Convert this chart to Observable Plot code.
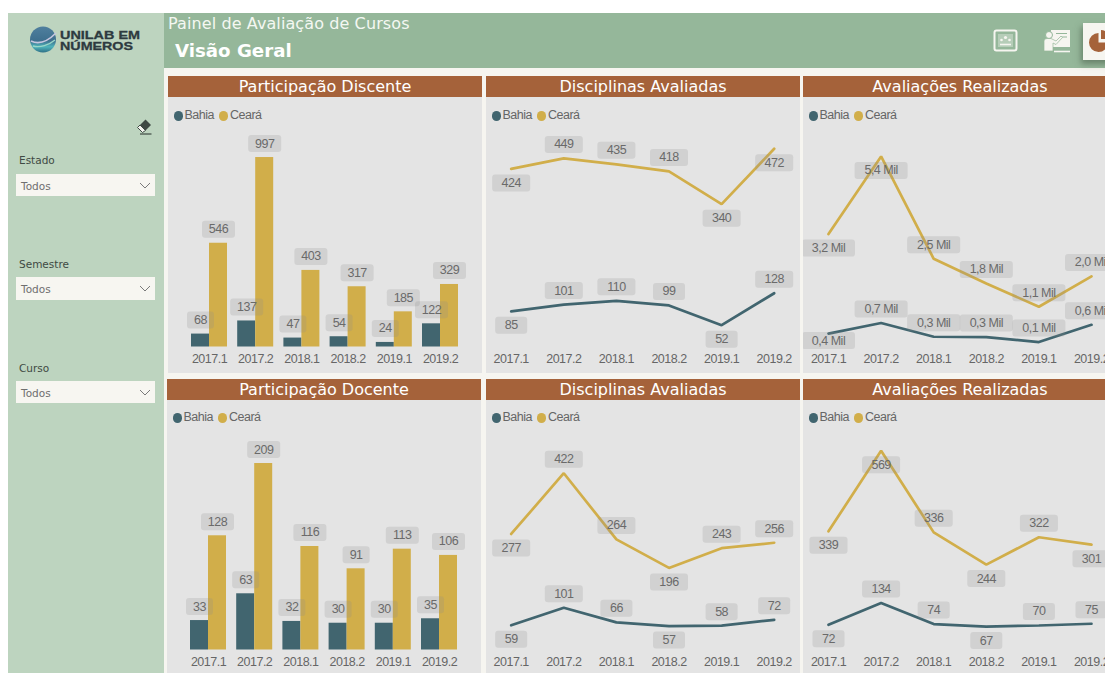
<!DOCTYPE html>
<html lang="pt">
<head>
<meta charset="utf-8">
<title>Painel de Avaliação de Cursos</title>
<script src="https://cdn.jsdelivr.net/npm/d3@7"></script>
<script src="https://cdn.jsdelivr.net/npm/@observablehq/plot@0.6"></script>
<style>
html,body{margin:0;padding:0;width:1105px;height:673px;overflow:hidden;background:#fff;font-family:"DejaVu Sans",sans-serif}
.abs{position:absolute}
#side{left:8px;top:13px;width:156px;height:660px;background:#bdd4bf}
#head{left:164px;top:13px;width:941px;height:55px;background:#95b79a}
#canvas{left:164px;top:68px;width:941px;height:605px;background:#f6f5f0}
.flabel{font-size:10.5px;color:#3f4a44;left:19px;line-height:12px}
.fbox{left:16px;width:139px;height:22.5px;background:#f7f6f1;font-size:10.5px;color:#6f6f6f;line-height:25px;text-indent:5px}
.title{color:#fff;background:#a5623a;height:21px;line-height:21px;text-align:center;font-size:16px;width:314px}
.body{background:#e4e4e4;width:314px;height:276px;overflow:hidden}
.legend{font:12.5px "Liberation Sans",sans-serif;letter-spacing:-.5px;color:#666;height:14px;line-height:14px;white-space:nowrap}
.legend i{position:absolute;top:3px;width:9.5px;height:9.5px;border-radius:50%}
.legend span{position:absolute;top:0}
</style>
</head>
<body>
<div id="side" class="abs"></div>
<div id="head" class="abs"></div>
<div id="canvas" class="abs"></div>
<div class="abs" style="left:168px;top:14px;font-size:16px;color:#f4f7f2;line-height:20px;letter-spacing:.1px">Painel de Avaliação de Cursos</div>
<div class="abs" style="left:175px;top:39px;font-size:18.2px;font-weight:bold;color:#fff;line-height:24px">Visão Geral</div>

<svg class="abs" style="left:20px;top:20px" width="130" height="40" viewBox="0 0 130 40">
  <defs><linearGradient id="g" x1="0" y1="0" x2="0" y2="1"><stop offset="0" stop-color="#4f7f9e"/><stop offset=".55" stop-color="#3e6f8e"/><stop offset=".78" stop-color="#4fb4bb"/><stop offset="1" stop-color="#2f6f86"/></linearGradient></defs>
  <circle cx="23" cy="19.5" r="13" fill="url(#g)"/>
  <path d="M11 21 C19 25 28 21 36 13" stroke="#c7c6df" stroke-width="1.6" fill="none"/>
  <path d="M13 26 C20 28 29 25 35 20" stroke="#9ad7c8" stroke-width="1.4" fill="none"/>
  <text x="40" y="19" font-family="Liberation Sans" font-weight="bold" font-size="11.5" fill="#2e3a40" stroke="#2e3a40" stroke-width=".3" textLength="80" lengthAdjust="spacingAndGlyphs">UNILAB EM</text>
  <text x="40" y="30" font-family="Liberation Sans" font-weight="bold" font-size="11.5" fill="#2e3a40" stroke="#2e3a40" stroke-width=".3" textLength="73" lengthAdjust="spacingAndGlyphs">NÚMEROS</text>
</svg>

<svg class="abs" style="left:136px;top:118px" width="18" height="18" viewBox="0 0 18 18">
  <path d="M9.5 1.5 L15 7 L9.5 12.5 L4 7 Z" fill="#3f4a44"/><path d="M4 7 L1.5 9.5 L6.5 14.5 L9.5 12.5 Z" fill="#f4f5f0" stroke="#3f4a44" stroke-width="1"/><path d="M4 16 H15.5" stroke="#3f4a44" stroke-width="1.2"/>
</svg>

<svg class="abs" style="left:990px;top:26px" width="115" height="44" viewBox="0 0 115 44">
  <rect x="4.5" y="4.5" width="22" height="20" rx="2" fill="#95b79a" stroke="#f6f5f0" stroke-width="2"/>
  <rect x="8" y="8" width="15" height="13" fill="#b6cdb8"/>
  <circle cx="15.5" cy="11.5" r="1.6" fill="#f6f5f0"/><circle cx="11.5" cy="14" r="1.3" fill="#f6f5f0"/><circle cx="19.5" cy="14" r="1.3" fill="#f6f5f0"/>
  <path d="M10 18.5h11" stroke="#f6f5f0" stroke-width="1.6"/>
  <path d="M61 4 H80 V21 H61 Z" fill="#f6f5f0"/><path d="M66 7.5h11M70 11h7" stroke="#95b79a" stroke-width="1"/>
  <circle cx="59" cy="9" r="3.5" fill="#f6f5f0" stroke="#95b79a"/>
  <path d="M54 25 V15 Q54 12.5 57 12.5 H61 L66 15 L71 10 L72.5 11.5 L66 18.5 L63 17 V25 Z" fill="#f6f5f0" stroke="#95b79a" stroke-width=".7"/>
  <path d="M64 25.5 H80" stroke="#f6f5f0" stroke-width="1.6"/>
</svg>
<div class="abs" style="left:1083px;top:23px;width:30px;height:37px;background:#f6f5f0;box-shadow:-2px 4px 6px rgba(70,90,70,.55)"></div>
<svg class="abs" style="left:1083px;top:23px" width="22" height="37" viewBox="0 0 22 37">
  <path d="M15.5 10 A9.5 9.5 0 1 0 25 19.5 H15.5 Z" fill="#a5623a"/><path d="M18 7 A9.5 9.5 0 0 1 27 16 H18 Z" fill="#a5623a"/>
</svg>

<script>
const semesters = ["2017.1", "2017.2", "2018.1", "2018.2", "2019.1", "2019.2"];
const states = ["Bahia", "Ceará"];
const stateColors = ["#41656f", "#d1ae4a"];

const alunosBahia = [68, 137, 47, 54, 24, 122];
const alunosCeara = [546, 997, 403, 317, 185, 329];
const discAlunosBahia = [85, 101, 110, 99, 52, 128];
const discAlunosCeara = [424, 449, 435, 418, 340, 472];
const avalAlunosBahia = [0.38, 0.68, 0.29, 0.28, 0.14, 0.63];
const avalAlunosCeara = [3.2, 5.4, 2.5, 1.8, 1.14, 2.0];
const docentesBahia = [33, 63, 32, 30, 30, 35];
const docentesCeara = [128, 209, 116, 91, 113, 106];
const discDocentesBahia = [59, 101, 66, 57, 58, 72];
const discDocentesCeara = [277, 422, 264, 196, 243, 256];
const avalDocentesBahia = [72, 134, 74, 67, 70, 75];
const avalDocentesCeara = [339, 569, 336, 244, 322, 301];

const filterNames = ["Estado", "Semestre", "Curso"];
const filterLabelTops = [154, 258, 362];
const filterBoxTops = [173.5, 277, 380.5];

filterNames.forEach((name, i) => {
  const l = document.createElement("div");
  l.className = "abs flabel"; l.style.top = filterLabelTops[i] + "px"; l.textContent = name;
  document.body.append(l);
  const b = document.createElement("div");
  b.className = "abs fbox"; b.style.top = filterBoxTops[i] + "px"; b.textContent = "Todos";
  b.innerHTML += '<svg style="position:absolute;right:4px;top:8px" width="12" height="7"><path d="M1 1 L6 6 L11 1" fill="none" stroke="#7a7a7a"/></svg>';
  document.body.append(b);
});

const rows = (bahia, ceara, formatter = String) =>
  semesters.flatMap((s, i) => [
    {semester: s, state: "Bahia", value: bahia[i], label: formatter(bahia[i])},
    {semester: s, state: "Ceará", value: ceara[i], label: formatter(ceara[i])}
  ]);
const mil = v => v.toFixed(1).replace(".", ",") + " Mil";

function boxSymbol(w, h, r) {
  return {draw(ctx) {
    const x = -w / 2, y = -h / 2;
    ctx.moveTo(x + r, y);
    ctx.lineTo(x + w - r, y); ctx.arcTo(x + w, y, x + w, y + r, r);
    ctx.lineTo(x + w, y + h - r); ctx.arcTo(x + w, y + h, x + w - r, y + h, r);
    ctx.lineTo(x + r, y + h); ctx.arcTo(x, y + h, x, y + h - r, r);
    ctx.lineTo(x, y + r); ctx.arcTo(x, y, x + r, y, r);
    ctx.closePath();
  }};
}
const offsets = {above: -14, below: 14, near: 7};

function labelMarks(data, channels, widthOf) {
  const marks = [];
  for (const place of Object.keys(offsets)) {
    const group = data.filter(d => (d.place || "above") === place);
    const widths = [...new Set(group.map(d => widthOf(d.label)))];
    for (const w of widths) {
      marks.push(Plot.dot(group.filter(d => widthOf(d.label) === w), {
        ...channels, r: 3, dy: offsets[place],
        symbol: boxSymbol(w, 17, 3), fill: "#8c8c8c", fillOpacity: 0.22, stroke: "none"
      }));
    }
    marks.push(Plot.text(group, {
      ...channels, text: "label", dy: offsets[place], fontSize: 12.5,
      fill: "#6a6a6a", fontFamily: "Liberation Sans"
    }));
  }
  return marks;
}

const baseOptions = {
  width: 314, height: 276, marginTop: 30, marginBottom: 26.5,
  style: {background: "none", fontFamily: "Liberation Sans", fontSize: "12.5px", letterSpacing: "-0.5px", color: "#666", display: "block"},
  color: {domain: states, range: stateColors}
};

function barChart(data, yMax) {
  return Plot.plot({
    ...baseOptions, marginLeft: 23, marginRight: 24,
    fx: {domain: semesters, padding: 0.2208, axis: "bottom", tickSize: 0, tickPadding: 7.5, label: null, round: false},
    x: {domain: states, padding: 0, axis: null, round: false},
    y: {domain: [0, yMax], axis: null},
    marks: [
      Plot.barY(data, {fx: "semester", x: "state", y: "value", fill: "state"}),
      ...labelMarks(data, {fx: "semester", x: "state", y: "value"}, t => t.length > 2 ? 33 : 27)
    ]
  });
}

function lineChart(data, yMax, left, placeBahia, placeCeara) {
  const placed = data.map((d, i) => ({...d, place: (d.state === "Bahia" ? placeBahia : placeCeara)[Math.floor(i / 2)]}));
  return Plot.plot({
    ...baseOptions, marginLeft: left, marginRight: 314 - left - 263,
    x: {domain: semesters, type: "point", padding: 0, axis: "bottom", tickSize: 0, tickPadding: 7.5, label: null, round: false},
    y: {domain: [0, yMax], axis: null},
    marks: [
      Plot.line(data, {x: "semester", y: "value", stroke: "state", strokeWidth: 2.7, strokeLinejoin: "miter"}),
      ...labelMarks(placed, {x: "semester", y: "value"}, t => t.length > 3 ? 53 : t.length > 2 ? 38 : 32)
    ]
  });
}

function panel(title, left, top, chart, legendLeft = 5.5, legendTop = 11) {
  const t = document.createElement("div");
  t.className = "abs title"; t.style.left = left + "px"; t.style.top = top + "px"; t.textContent = title;
  document.body.append(t);
  const b = document.createElement("div");
  b.className = "abs body"; b.style.left = left + "px"; b.style.top = (top + 21) + "px";
  b.append(chart);
  const lg = document.createElement("div");
  lg.className = "abs legend"; lg.style.left = legendLeft + "px"; lg.style.top = legendTop + "px";
  lg.innerHTML = `<i style="left:0;background:${stateColors[0]}"></i><span style="left:11px">Bahia</span>` +
                 `<i style="left:45px;background:${stateColors[1]}"></i><span style="left:56.5px">Ceará</span>`;
  b.append(lg);
  document.body.append(b);
}

const A = "above", B = "below", N = "near";

panel("Participação Discente", 168, 76, barChart(rows(alunosBahia, alunosCeara), 1155));
panel("Disciplinas Avaliadas", 486, 76, lineChart(rows(discAlunosBahia, discAlunosCeara), 522.6, 24.7,
  [B, A, A, A, B, A], [B, A, A, A, B, B]));
panel("Avaliações Realizadas", 803, 76, lineChart(rows(avalAlunosBahia, avalAlunosCeara, mil), 6.22, 25,
  [N, A, A, A, A, A], [B, B, A, A, A, A]));
panel("Participação Docente", 167, 378.5, barChart(rows(docentesBahia, docentesCeara), 246), 5.5, 10.5);
panel("Disciplinas Avaliadas", 486, 378.5, lineChart(rows(discDocentesBahia, discDocentesCeara), 524, 24.7,
  [B, A, A, B, A, A], [B, A, A, B, A, A]), 5.5, 10.5);
panel("Avaliações Realizadas", 803, 378.5, lineChart(rows(avalDocentesBahia, avalDocentesCeara), 627, 25,
  [B, A, A, B, A, A], [B, B, A, B, A, B]), 5.5, 10.5);
</script>
</body>
</html>
